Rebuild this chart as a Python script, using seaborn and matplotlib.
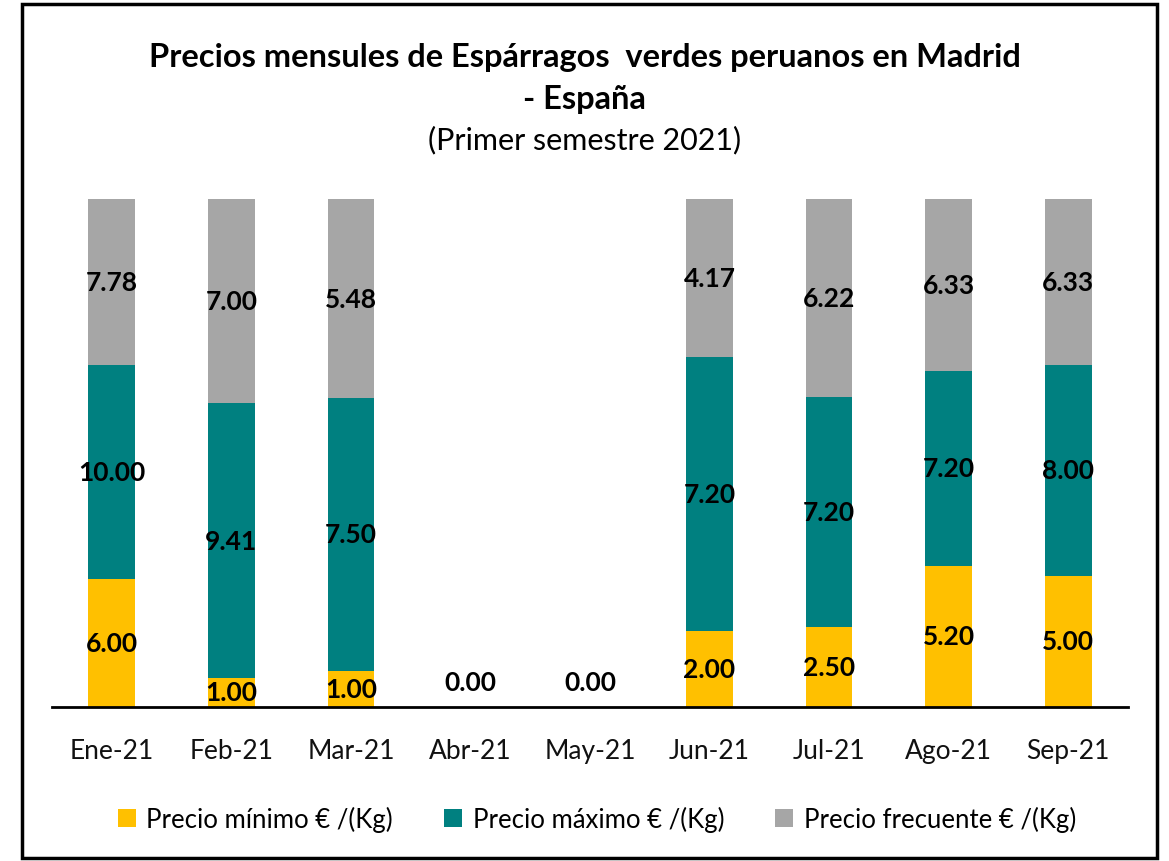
import numpy as np
import pandas as pd
import matplotlib
matplotlib.use("Agg")
import matplotlib.pyplot as plt
from matplotlib.patches import Rectangle, Patch
import seaborn as sns

months = ["Ene-21", "Feb-21", "Mar-21", "Abr-21", "May-21", "Jun-21", "Jul-21", "Ago-21", "Sep-21"]
precio_minimo = [6.00, 1.00, 1.00, 0.00, 0.00, 2.00, 2.50, 5.20, 5.00]
precio_maximo = [10.00, 9.41, 7.50, 0.00, 0.00, 7.20, 7.20, 7.20, 8.00]
precio_frecuente = [7.78, 7.00, 5.48, 0.00, 0.00, 4.17, 6.22, 6.33, 6.33]
series_names = ["Precio mínimo € /(Kg)", "Precio máximo € /(Kg)", "Precio frecuente € /(Kg)"]
colors = ["#FFC000", "#008080", "#A6A6A6"]

sns.set_theme(style="white")
plt.rcParams["font.family"] = ["Lato", "DejaVu Sans"]
plt.rcParams["text.color"] = "black"

vals = np.array([precio_minimo, precio_maximo, precio_frecuente], dtype=float)
tot = vals.sum(axis=0)
safe = np.where(tot > 0, tot, 1.0)
frac = vals / safe
cum = np.cumsum(frac, axis=0)

fig = plt.figure(figsize=(11.69, 8.62), dpi=100)
ax = fig.add_axes([52 / 1169, 1 - 708 / 862, (1128 - 52) / 1169, (708 - 200) / 862])

# draw stacked (cumulative, largest first)
for i in [2, 1, 0]:
    df = pd.DataFrame({"mes": months, "v": cum[i]})
    sns.barplot(data=df, x="mes", y="v", order=months, color=colors[i],
                width=0.39, saturation=1, ax=ax, linewidth=0)

ax.set_xlim(-0.5, 8.5)
ax.set_ylim(0, 1)
ax.set_xlabel("")
ax.set_ylabel("")
ax.set_yticks([])
for s in ["left", "right", "top"]:
    ax.spines[s].set_visible(False)
ax.spines["bottom"].set_color("black")
ax.spines["bottom"].set_linewidth(2)
ax.tick_params(axis="x", length=0, pad=22, labelsize=19, labelcolor="#111111")

# labels
for j in range(len(months)):
    if tot[j] == 0:
        ax.text(j, 0.049, f"{0:.2f}", ha="center", va="center", fontsize=19,
                fontweight="bold", color="black")
        continue
    base = 0.0
    for i in range(3):
        c = base + frac[i, j] / 2
        ax.text(j, c, f"{vals[i, j]:.2f}", ha="center", va="center", fontsize=19,
                fontweight="bold", color="black")
        base += frac[i, j]

fig.text(0.5, 1 - 57 / 862, "Precios mensules de Espárragos  verdes peruanos en Madrid",
         ha="center", va="center", fontsize=23.5, fontweight="bold", color="black")
fig.text(0.5, 1 - 100 / 862, "- España", ha="center", va="center", fontsize=23.5,
         fontweight="bold", color="black")
fig.text(0.5, 1 - 140 / 862, "(Primer semestre 2021)", ha="center", va="center",
         fontsize=22, color="black")

handles = [Patch(facecolor=c, edgecolor="none") for c in colors]
fig.legend(handles, series_names, loc="center", bbox_to_anchor=(597 / 1169, 1 - 820 / 862),
           ncol=3, frameon=False, fontsize=18.5, handlelength=0.7, handleheight=0.7,
           handletextpad=0.4, columnspacing=2.0)

fig.add_artist(Rectangle((22 / 1169, 3 / 862), (1157 - 22) / 1169, (857 - 3) / 862,
                         transform=fig.transFigure, fill=False, edgecolor="black",
                         linewidth=2.5))

fig.savefig("out.png", dpi=100)
